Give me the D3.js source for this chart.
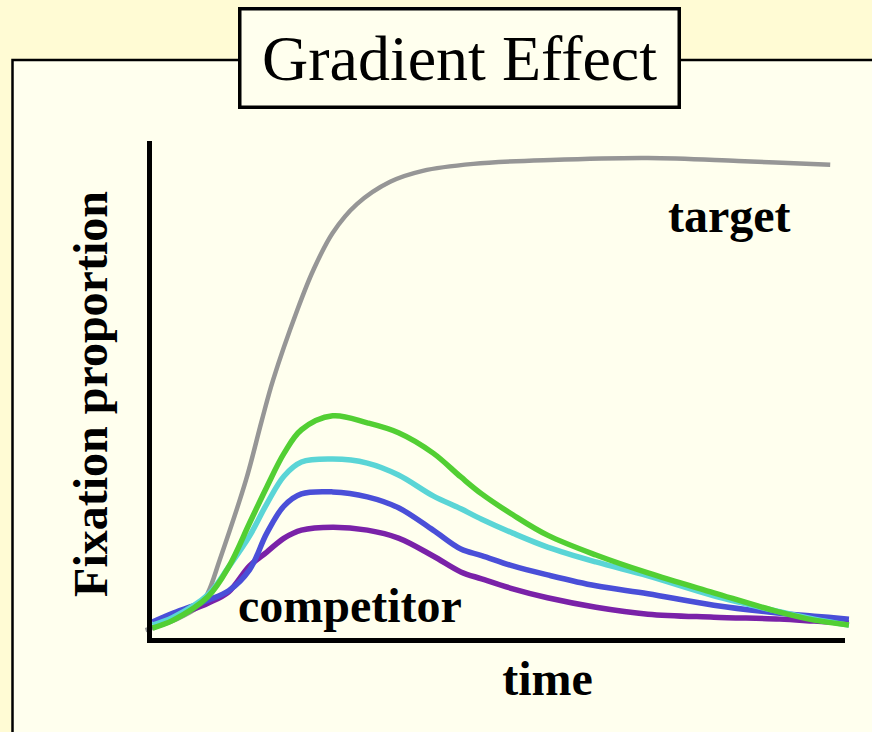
<!DOCTYPE html>
<html>
<head>
<meta charset="utf-8">
<script src="https://cdn.jsdelivr.net/npm/d3@7"></script>
<style>
  html, body { margin: 0; padding: 0; background: #FFFBD4; }
  svg { display: block; }
  text { font-family: "Liberation Serif", "Times New Roman", serif; fill: #000; }
</style>
</head>
<body>
<svg id="chart" width="872" height="732"></svg>
<script>
// Target fixation curve (time in ms, proportion of fixations)
const targetTime = [-5, 40, 72, 85, 102, 140, 163, 179, 214, 237, 265, 300, 348, 395, 468, 580, 720, 850, 983];
const targetProp = [0.02, 0.042, 0.068, 0.095, 0.161, 0.322, 0.443, 0.523, 0.664, 0.744, 0.819, 0.877, 0.922, 0.944, 0.958, 0.966, 0.970, 0.964, 0.956];

// Competitor fixation curves, sampled on a shared time grid
const compTime = [5, 35, 85, 115, 145, 170, 195, 220, 265, 315, 360, 410, 450, 480, 525, 575, 645, 720, 815, 910, 960, 1010];
const compPurple = [0.024, 0.046, 0.074, 0.097, 0.149, 0.177, 0.205, 0.221, 0.227, 0.221, 0.205, 0.169, 0.137, 0.123, 0.103, 0.085, 0.066, 0.052, 0.046, 0.042, 0.038, 0.034];
const compBlue   = [0.036, 0.054, 0.080, 0.099, 0.141, 0.215, 0.270, 0.294, 0.298, 0.288, 0.266, 0.221, 0.183, 0.170, 0.149, 0.131, 0.109, 0.093, 0.070, 0.054, 0.048, 0.042];
const compCyan   = [0.030, 0.046, 0.091, 0.147, 0.209, 0.274, 0.330, 0.358, 0.364, 0.356, 0.332, 0.290, 0.264, 0.243, 0.215, 0.187, 0.157, 0.129, 0.089, 0.057, 0.042, 0.030];
const compGreen  = [0.024, 0.040, 0.087, 0.147, 0.235, 0.308, 0.376, 0.423, 0.451, 0.437, 0.417, 0.376, 0.328, 0.294, 0.252, 0.211, 0.171, 0.135, 0.095, 0.056, 0.040, 0.030];

const compSeries = [
  { values: compPurple, color: "#7A22A8" },
  { values: compBlue,   color: "#4A4FD8" },
  { values: compCyan,   color: "#5AD5D6" },
  { values: compGreen,  color: "#52CF33" }
];

const svg = d3.select("#chart");

// Slide backdrop: pale panel with a thin black frame
svg.append("rect").attr("x", 0).attr("y", 0).attr("width", 872).attr("height", 732).attr("fill", "#FFFBD4");
svg.append("rect").attr("x", 12.5).attr("y", 60).attr("width", 880).attr("height", 700)
  .attr("fill", "#FFFFEE").attr("stroke", "#000").attr("stroke-width", 2.5);

// Title box
svg.append("rect").attr("x", 239.75).attr("y", 8.75).attr("width", 439.5).attr("height", 98.5)
  .attr("fill", "#FFFFEE").attr("stroke", "#000").attr("stroke-width", 3.5);
svg.append("text").attr("x", 459.5).attr("y", 80).attr("text-anchor", "middle")
  .attr("font-size", 64).text("Gradient Effect");

// Scales
const x = d3.scaleLinear().domain([0, 1000]).range([149, 842]);
const y = d3.scaleLinear().domain([0, 1]).range([640, 143]);

const line = d3.line().curve(d3.curveCatmullRom.alpha(0.5))
  .x(d => x(d[0])).y(d => y(d[1]));

// Target curve
svg.append("path")
  .datum(targetTime.map((t, i) => [t, targetProp[i]]))
  .attr("d", line)
  .attr("fill", "none").attr("stroke", "#969696").attr("stroke-width", 4.5);

// Competitor curves
compSeries.forEach(s => {
  svg.append("path")
    .datum(compTime.map((t, i) => [t, s.values[i]]))
    .attr("d", line)
    .attr("fill", "none").attr("stroke", s.color).attr("stroke-width", 5.5);
});

// Axes without ticks
const yAxis = svg.append("g").attr("transform", `translate(${x(0)},0)`)
  .call(d3.axisLeft(y).ticks(0).tickSizeOuter(0));
const xAxis = svg.append("g").attr("transform", `translate(0,${y(0)})`)
  .call(d3.axisBottom(x).ticks(0).tickSizeOuter(0));
[yAxis, xAxis].forEach(a => a.select(".domain")
  .attr("stroke", "#000").attr("stroke-width", 5).attr("stroke-linecap", "square"));

// Labels
svg.append("text").attr("x", 668).attr("y", 232).attr("font-size", 48)
  .attr("font-weight", "bold").text("target");
svg.append("text").attr("x", 238).attr("y", 622).attr("font-size", 48)
  .attr("font-weight", "bold").text("competitor");
svg.append("text").attr("x", 547.5).attr("y", 695).attr("text-anchor", "middle")
  .attr("font-size", 48).attr("font-weight", "bold").text("time");
svg.append("text").attr("transform", "translate(107,394) rotate(-90)")
  .attr("text-anchor", "middle").attr("font-size", 48).attr("font-weight", "bold")
  .text("Fixation proportion");
</script>
</body>
</html>
